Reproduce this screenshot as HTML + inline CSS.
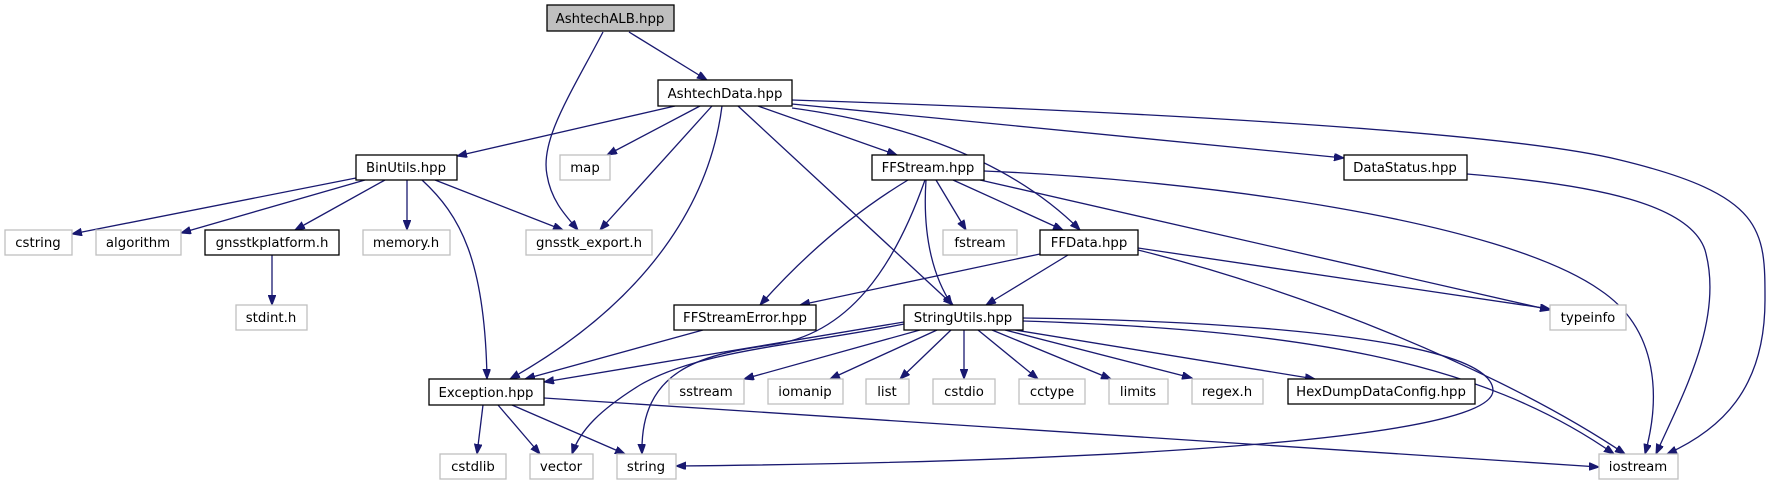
<!DOCTYPE html>
<html><head><meta charset="utf-8"><style>
html,body{margin:0;padding:0;background:#fff;width:1771px;height:485px;overflow:hidden}
svg text{font-family:"DejaVu Sans","Liberation Sans",sans-serif;font-size:13.3px;fill:#000;text-anchor:middle}
.e{fill:none;stroke:#191970;stroke-width:1.3}
.d{fill:#fff;stroke:#000;stroke-width:1.3}
.x{fill:#fff;stroke:#bfbfbf;stroke-width:1.3}
</style></head><body>
<svg width="1771" height="485" viewBox="0 0 1771 485" xmlns="http://www.w3.org/2000/svg">
<defs><marker id="a" markerUnits="userSpaceOnUse" markerWidth="11" markerHeight="8" refX="10" refY="3.8" orient="auto"><path d="M0,0 L10,3.8 L0,7.6 z" fill="#191970" stroke="#191970"/></marker></defs>
<g marker-end="url(#a)">
<path class="e" d="M629,32 L707,80"/>
<path class="e" d="M603,32 C570,95 540,140 547,175 C551,200 565,215 578,230"/>
<path class="e" d="M675,106 L457,156"/>
<path class="e" d="M700,106 L607,155"/>
<path class="e" d="M712,106 L600,230"/>
<path class="e" d="M722,106 C710,200 650,300 510,379"/>
<path class="e" d="M738,106 L953,305"/>
<path class="e" d="M758,106 L897,155"/>
<path class="e" d="M792,108 C880,120 1000,150 1080,230"/>
<path class="e" d="M792,104 L1344,158"/>
<path class="e" d="M792,100 C1100,110 1500,130 1620,160 C1765,195 1765,230 1765,300 C1765,390 1720,430 1667,454"/>
<path class="e" d="M356,178 L72,234"/>
<path class="e" d="M365,180 L181,233"/>
<path class="e" d="M385,180 L295,230"/>
<path class="e" d="M407,180 L407,230"/>
<path class="e" d="M435,180 L563,230"/>
<path class="e" d="M422,180 C460,215 485,260 487,379"/>
<path class="e" d="M272,255 L272,305"/>
<path class="e" d="M908,180 C850,215 800,260 760,305"/>
<path class="e" d="M925,180 C895,265 850,335 770,345 C700,355 640,370 642,454"/>
<path class="e" d="M926,180 C922,240 935,280 952,305"/>
<path class="e" d="M936,180 L966,230"/>
<path class="e" d="M953,180 L1063,230"/>
<path class="e" d="M980,180 L1550,310"/>
<path class="e" d="M984,171 C1200,180 1500,220 1600,290 C1660,330 1660,400 1645,454"/>
<path class="e" d="M1467,174 C1600,185 1690,205 1705,250 C1725,320 1680,400 1656,454"/>
<path class="e" d="M1040,254 L800,305"/>
<path class="e" d="M1068,255 L986,305"/>
<path class="e" d="M1138,248 L1550,309"/>
<path class="e" d="M1138,250 C1300,290 1500,370 1625,454"/>
<path class="e" d="M703,330 L525,379"/>
<path class="e" d="M904,322 L544,382"/>
<path class="e" d="M904,324 C800,345 700,350 640,385 C600,410 580,430 572,454"/>
<path class="e" d="M1023,318 C1200,320 1490,335 1493,390 C1495,440 1100,462 676,466"/>
<path class="e" d="M920,330 L744,379"/>
<path class="e" d="M937,330 L830,379"/>
<path class="e" d="M951,330 L900,379"/>
<path class="e" d="M964,330 L964,379"/>
<path class="e" d="M978,330 L1038,379"/>
<path class="e" d="M992,330 L1111,379"/>
<path class="e" d="M1005,330 L1192,378"/>
<path class="e" d="M1015,330 L1315,379"/>
<path class="e" d="M1023,321 C1300,330 1480,360 1614,454"/>
<path class="e" d="M483,405 L477,454"/>
<path class="e" d="M498,405 L540,454"/>
<path class="e" d="M512,405 L625,454"/>
<path class="e" d="M544,398 C900,420 1300,450 1599,467"/>
</g>
<rect x="547" y="5" width="127" height="26" fill="#bfbfbf" stroke="#000" stroke-width="1.3"/><text x="610" y="23">AshtechALB.hpp</text>
<rect class="d" x="658" y="80" width="134" height="26"/><text x="725" y="98">AshtechData.hpp</text>
<rect class="d" x="356" y="155" width="101" height="25"/><text x="406" y="172">BinUtils.hpp</text>
<rect class="x" x="560" y="155" width="50" height="25"/><text x="585" y="172">map</text>
<rect class="d" x="872" y="155" width="112" height="25"/><text x="928" y="172">FFStream.hpp</text>
<rect class="d" x="1344" y="155" width="123" height="25"/><text x="1405" y="172">DataStatus.hpp</text>
<rect class="x" x="5" y="230" width="67" height="25"/><text x="38" y="247">cstring</text>
<rect class="x" x="96" y="230" width="85" height="25"/><text x="138" y="247">algorithm</text>
<rect class="d" x="205" y="230" width="134" height="25"/><text x="272" y="247">gnsstkplatform.h</text>
<rect class="x" x="363" y="230" width="87" height="25"/><text x="406" y="247">memory.h</text>
<rect class="x" x="526" y="230" width="126" height="25"/><text x="589" y="247">gnsstk_export.h</text>
<rect class="x" x="943" y="230" width="74" height="25"/><text x="980" y="247">fstream</text>
<rect class="d" x="1040" y="230" width="98" height="25"/><text x="1089" y="247">FFData.hpp</text>
<rect class="x" x="236" y="305" width="71" height="25"/><text x="271" y="322">stdint.h</text>
<rect class="d" x="674" y="305" width="142" height="25"/><text x="745" y="322">FFStreamError.hpp</text>
<rect class="d" x="904" y="305" width="119" height="25"/><text x="963" y="322">StringUtils.hpp</text>
<rect class="x" x="1550" y="305" width="76" height="25"/><text x="1588" y="322">typeinfo</text>
<rect class="d" x="429" y="379" width="115" height="26"/><text x="486" y="397">Exception.hpp</text>
<rect class="x" x="669" y="379" width="75" height="25"/><text x="706" y="396">sstream</text>
<rect class="x" x="768" y="379" width="75" height="25"/><text x="805" y="396">iomanip</text>
<rect class="x" x="866" y="379" width="43" height="25"/><text x="887" y="396">list</text>
<rect class="x" x="933" y="379" width="62" height="25"/><text x="964" y="396">cstdio</text>
<rect class="x" x="1019" y="379" width="66" height="25"/><text x="1052" y="396">cctype</text>
<rect class="x" x="1109" y="379" width="59" height="25"/><text x="1138" y="396">limits</text>
<rect class="x" x="1192" y="379" width="71" height="25"/><text x="1227" y="396">regex.h</text>
<rect class="d" x="1288" y="379" width="187" height="25"/><text x="1381" y="396">HexDumpDataConfig.hpp</text>
<rect class="x" x="440" y="454" width="66" height="25"/><text x="473" y="471">cstdlib</text>
<rect class="x" x="530" y="454" width="63" height="25"/><text x="561" y="471">vector</text>
<rect class="x" x="617" y="454" width="59" height="25"/><text x="646" y="471">string</text>
<rect class="x" x="1599" y="454" width="79" height="25"/><text x="1638" y="471">iostream</text>
</svg>
</body></html>
